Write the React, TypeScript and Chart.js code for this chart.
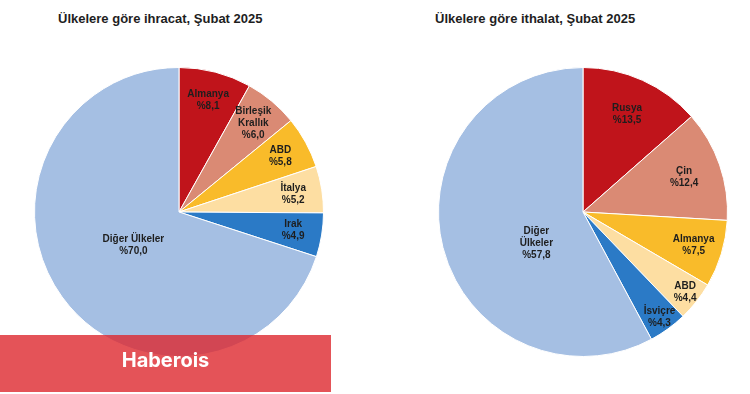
import React, { useEffect, useRef } from "react";
import { Chart, registerables } from "chart.js";

Chart.register(...registerables);

const exportTitle = "Ülkelere göre ihracat, Şubat 2025";
const exportLabels = ["Almanya", "Birleşik\nKrallık", "ABD", "İtalya", "Irak", "Diğer Ülkeler"];
const exportValues = [8.1, 6.0, 5.8, 5.2, 4.9, 70.0];

const importTitle = "Ülkelere göre ithalat, Şubat 2025";
const importLabels = ["Rusya", "Çin", "Almanya", "ABD", "İsviçre", "Diğer\nÜlkeler"];
const importValues = [13.5, 12.4, 7.5, 4.4, 4.3, 57.8];

const sliceColors = ["#C0141B", "#DA8A74", "#F9BB2A", "#FDDEA2", "#2B7AC6", "#A5BFE3"];

const sliceLabelPlugin = {
  id: "sliceLabels",
  afterDatasetsDraw(chart: any) {
    const ctx = chart.ctx;
    const meta = chart.getDatasetMeta(0);
    const data = chart.data.datasets[0].data as number[];
    const labels = chart.data.labels as string[];
    ctx.save();
    ctx.font = "bold 10px 'Liberation Sans', Arial, sans-serif";
    ctx.fillStyle = "#1E1E1E";
    ctx.textAlign = "center";
    ctx.textBaseline = "middle";
    meta.data.forEach((arc: any, i: number) => {
      const p = arc.getProps(["x", "y", "startAngle", "endAngle", "outerRadius"], true);
      let mid = (p.startAngle + p.endAngle) / 2;
      const v = data[i];
      let f = 0.8;
      if (v > 50) {
        f = 0.39;
        // large remainder slice: label sits in its lower-left part
        mid = Math.min(mid, Math.PI * 0.81);
      } else if (v > 10) f = 0.74;
      else if (v < 4.6) f = 0.9;
      const cx = p.x + Math.cos(mid) * p.outerRadius * f;
      const cy = p.y + Math.sin(mid) * p.outerRadius * f;
      const lines = String(labels[i]).split("\n");
      lines.push("%" + v.toFixed(1).replace(".", ","));
      const lh = 12;
      const y0 = cy - ((lines.length - 1) * lh) / 2;
      lines.forEach((t, k) => ctx.fillText(t, cx, y0 + k * lh));
    });
    ctx.restore();
  },
};

function Pie({ labels, values, left, top }: { labels: string[]; values: number[]; left: number; top: number }) {
  const ref = useRef<HTMLCanvasElement | null>(null);
  useEffect(() => {
    if (!ref.current) return;
    const chart = new Chart(ref.current, {
      type: "pie",
      data: {
        labels,
        datasets: [
          {
            data: values,
            backgroundColor: sliceColors,
            borderColor: "#FFFFFF",
            borderWidth: 1,
          },
        ],
      },
      options: {
        responsive: false,
        animation: false,
        layout: { padding: 5 },
        plugins: {
          legend: { display: false },
          tooltip: { enabled: false },
          title: { display: false },
        },
      },
      plugins: [sliceLabelPlugin],
    });
    return () => chart.destroy();
  }, []);
  return (
    <canvas
      ref={ref}
      width={300}
      height={300}
      style={{ position: "absolute", left, top, width: 300, height: 300 }}
    />
  );
}

const titleStyle: React.CSSProperties = {
  position: "absolute",
  top: 11,
  font: "bold 13px 'Liberation Sans', Arial, sans-serif",
  color: "#1E1E1E",
  whiteSpace: "nowrap",
};

export default function App() {
  return (
    <div
      style={{
        position: "fixed",
        left: 0,
        top: 0,
        width: 750,
        height: 394,
        background: "#FFFFFF",
        overflow: "hidden",
      }}
    >
      <div style={{ ...titleStyle, left: 58 }}>{exportTitle}</div>
      <div style={{ ...titleStyle, left: 435 }}>{importTitle}</div>
      <Pie labels={exportLabels} values={exportValues} left={29} top={62} />
      <Pie labels={importLabels} values={importValues} left={433} top={62} />
      <div
        style={{
          position: "absolute",
          left: 0,
          top: 335,
          width: 331,
          height: 57,
          boxSizing: "border-box",
          paddingBottom: 7,
          background: "rgba(221, 40, 46, 0.8)",
          color: "#FFFFFF",
          font: "bold 20px Inter, 'Noto Sans', sans-serif",
          display: "flex",
          alignItems: "center",
          justifyContent: "center",
          zIndex: 2,
        }}
      >
        Haberois
      </div>
    </div>
  );
}
